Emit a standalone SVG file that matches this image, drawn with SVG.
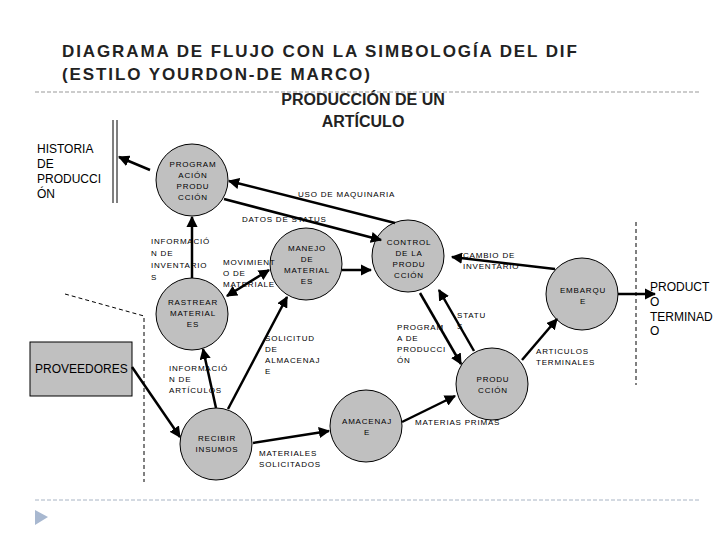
<svg xmlns="http://www.w3.org/2000/svg" width="720" height="540" viewBox="0 0 720 540">
<style>
.p{fill:#c0c0c0;stroke:#000;stroke-width:1}
.t{font-family:"Liberation Sans",Arial,sans-serif;font-size:8px;letter-spacing:0.8px;fill:#000}
.c{text-anchor:middle}
.b{font-family:"Liberation Sans",Arial,sans-serif;font-size:12px;fill:#000}
.h{font-family:"Liberation Sans",Arial,sans-serif;font-weight:bold;fill:#222}
.a{stroke:#000;stroke-width:2.5;fill:none;marker-end:url(#m)}
.d{stroke:#000;stroke-width:1;stroke-dasharray:4 3;fill:none}
</style>
<defs>
<marker id="m" viewBox="0 0 10 10" refX="9" refY="5" markerWidth="4.5" markerHeight="4.5" orient="auto"><path d="M0,0L10,5L0,10z" fill="#000"/></marker>
<marker id="ms" viewBox="0 0 10 10" refX="1" refY="5" markerWidth="4.5" markerHeight="4.5" orient="auto"><path d="M10,0L0,5L10,10z" fill="#000"/></marker>
</defs>
<rect width="720" height="540" fill="#fff"/>
<text class="h" x="62" y="57" font-size="17" letter-spacing="1.9">DIAGRAMA DE FLUJO CON LA SIMBOLOGÍA DEL DIF</text>
<text class="h" x="62" y="80" font-size="17" letter-spacing="1.9">(ESTILO YOURDON-DE MARCO)</text>
<line x1="35" y1="92" x2="700" y2="92" stroke="#999" stroke-dasharray="4 2"/>
<text class="h c" x="363" y="105" font-size="16" text-anchor="middle">PRODUCCIÓN DE UN</text>
<text class="h c" x="363" y="127" font-size="16" text-anchor="middle">ARTÍCULO</text>
<line x1="35" y1="500" x2="700" y2="500" stroke="#a8b4c4" stroke-dasharray="4 2"/>
<path d="M35,510L48,517L35,525z" fill="#a8b8d0"/>
<g id="dashes"><path class="d" d="M65,294L144,316L144,482"/><line class="d" x1="636" y1="222" x2="636" y2="385"/></g>
<g id="historia"><line x1="113" y1="120" x2="113" y2="203" stroke="#000"/><line x1="117" y1="120" x2="117" y2="203" stroke="#000"/>
<text class="b"><tspan x="37" y="153">HISTORIA</tspan><tspan x="37" y="168">DE</tspan><tspan x="37" y="183">PRODUCCI</tspan><tspan x="37" y="198">ÓN</tspan></text></g>
<g id="proveedores"><rect x="30" y="342" width="102" height="54" class="p"/><text class="b" x="35" y="373">PROVEEDORES</text></g>
<g id="terminado"><text class="b"><tspan x="650" y="291">PRODUCT</tspan><tspan x="650" y="306">O</tspan><tspan x="650" y="321">TERMINAD</tspan><tspan x="650" y="335">O</tspan></text></g>
<g id="programacion"><circle cx="192" cy="180" r="36" class="p"/><text class="t c"><tspan x="193" y="167">PROGRAM</tspan><tspan x="193" y="178">ACIÓN</tspan><tspan x="193" y="189">PRODU</tspan><tspan x="193" y="200">CCIÓN</tspan></text></g>
<g id="manejo"><circle cx="306" cy="264" r="36" class="p"/><text class="t c"><tspan x="307" y="251">MANEJO</tspan><tspan x="307" y="262">DE</tspan><tspan x="307" y="273">MATERIAL</tspan><tspan x="307" y="284">ES</tspan></text></g>
<g id="control"><circle cx="408" cy="256" r="36" class="p"/><text class="t c"><tspan x="409" y="245">CONTROL</tspan><tspan x="409" y="256">DE LA</tspan><tspan x="409" y="267">PRODU</tspan><tspan x="409" y="278">CCIÓN</tspan></text></g>
<g id="rastrear"><circle cx="192" cy="314" r="36" class="p"/><text class="t c"><tspan x="193" y="305">RASTREAR</tspan><tspan x="193" y="316">MATERIAL</tspan><tspan x="193" y="327">ES</tspan></text></g>
<g id="embarque"><circle cx="582" cy="294" r="36" class="p"/><text class="t c"><tspan x="583" y="293">EMBARQU</tspan><tspan x="583" y="304">E</tspan></text></g>
<g id="produccion"><circle cx="492" cy="384" r="36" class="p"/><text class="t c"><tspan x="493" y="382">PRODU</tspan><tspan x="493" y="393">CCIÓN</tspan></text></g>
<g id="recibir"><circle cx="216" cy="444" r="36" class="p"/><text class="t c"><tspan x="217" y="441">RECIBIR</tspan><tspan x="217" y="452">INSUMOS</tspan></text></g>
<g id="almacenaje"><circle cx="366" cy="426" r="36" class="p"/><text class="t c"><tspan x="367" y="424">AMACENAJ</tspan><tspan x="367" y="435">E</tspan></text></g>
<g id="connectors">
<line class="a" x1="150" y1="170" x2="119" y2="157"/>
<line class="a" x1="395" y1="223" x2="229" y2="181"/>
<line class="a" x1="224" y1="199" x2="381" y2="240"/>
<line class="a" x1="192" y1="278" x2="192" y2="217"/>
<line class="a" x1="227" y1="296" x2="269" y2="270" marker-start="url(#ms)"/>
<line class="a" x1="342" y1="270" x2="371" y2="270"/>
<line class="a" x1="555" y1="269" x2="452" y2="257"/>
<line class="a" x1="420" y1="293" x2="461" y2="364"/>
<line class="a" x1="474" y1="351" x2="439" y2="290"/>
<line class="a" x1="522" y1="360" x2="557" y2="319"/>
<line class="a" x1="618" y1="294" x2="655" y2="294"/>
<line class="a" x1="132" y1="367" x2="180" y2="437"/>
<line class="a" x1="216" y1="408" x2="203" y2="349"/>
<line class="a" x1="228" y1="409" x2="287" y2="297"/>
<line class="a" x1="253" y1="443" x2="329" y2="431"/>
<line class="a" x1="402" y1="422" x2="455" y2="396"/>
</g>
<g id="labels">
<text class="t" x="298" y="197">USO DE MAQUINARIA</text>
<text class="t" x="242" y="222">DATOS DE STATUS</text>
<text class="t"><tspan x="151" y="244">INFORMACIÓ</tspan><tspan x="151" y="256">N DE</tspan><tspan x="151" y="268">INVENTARIO</tspan><tspan x="151" y="280">S</tspan></text>
<text class="t"><tspan x="223" y="265">MOVIMIENT</tspan><tspan x="223" y="276">O DE</tspan><tspan x="223" y="287">MATERIALE</tspan></text>
<text class="t"><tspan x="463" y="258">CAMBIO DE</tspan><tspan x="463" y="269">INVENTARIO</tspan></text>
<text class="t"><tspan x="457" y="318">STATU</tspan><tspan x="457" y="329">S</tspan></text>
<text class="t"><tspan x="397" y="330">PROGRAM</tspan><tspan x="397" y="341">A DE</tspan><tspan x="397" y="352">PRODUCCI</tspan><tspan x="397" y="363">ÓN</tspan></text>
<text class="t"><tspan x="536" y="354">ARTICULOS</tspan><tspan x="536" y="365">TERMINALES</tspan></text>
<text class="t"><tspan x="265" y="341">SOLICITUD</tspan><tspan x="265" y="352">DE</tspan><tspan x="265" y="363">ALMACENAJ</tspan><tspan x="265" y="374">E</tspan></text>
<text class="t"><tspan x="169" y="371">INFORMACIÓ</tspan><tspan x="169" y="382">N DE</tspan><tspan x="169" y="393">ARTÍCULOS</tspan></text>
<text class="t"><tspan x="259" y="456">MATERIALES</tspan><tspan x="259" y="467">SOLICITADOS</tspan></text>
<text class="t" x="415" y="425">MATERIAS PRIMAS</text>
</g>
</svg>
